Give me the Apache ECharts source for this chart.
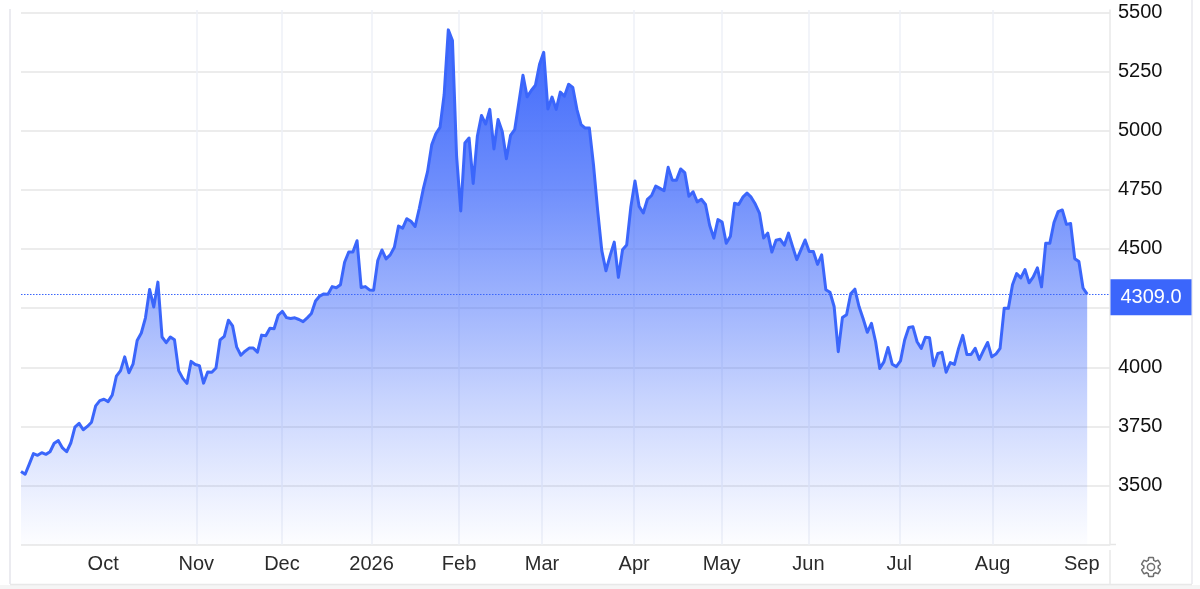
<!DOCTYPE html>
<html>
<head>
<meta charset="utf-8">
<style>html,body{margin:0;padding:0;background:#fff}#c{width:1200px;height:589px}</style>
<script src="https://cdn.jsdelivr.net/npm/echarts@6/dist/echarts.min.js"></script>
</head>
<body>
<div id="c"></div>
<script>
const monthLabels = ['Oct','Nov','Dec','2026','Feb','Mar','Apr','May','Jun','Jul','Aug','Sep'];
const monthSessions = [19.8,42.26,62.9,84.5,105.6,125.6,147.8,168.9,189.8,211.7,234.2,255.7];
const values = [
3560,3548,3591,3635,3628,3639,3632,3643,3679,3690,3659,3643,3680,3747,3763,3736,3750,3768,3837,3859,
3865,3855,3883,3963,3986,4044,3977,4013,4113,4145,4209,4329,4255,4360,4128,4104,4128,4116,3986,3953,
3932,4025,4012,4007,3933,3980,3979,3997,4116,4131,4199,4175,4085,4051,4068,4081,4081,4064,4136,4133,
4165,4163,4220,4236,4210,4206,4209,4202,4193,4209,4227,4280,4301,4310,4309,4341,4336,4349,4444,4487,
4487,4535,4337,4341,4327,4326,4451,4496,4458,4475,4507,4597,4588,4628,4617,4595,4671,4756,4827,4940,
4987,5014,5153,5426,5381,4891,4661,4948,4969,4777,4976,5064,5028,5090,4923,5047,4997,4881,4980,5004,
5118,5234,5143,5170,5192,5281,5331,5092,5142,5090,5163,5146,5196,5183,5090,5026,5011,5011,4855,4663,
4493,4408,4472,4529,4380,4497,4517,4678,4787,4680,4652,4710,4726,4766,4756,4746,4845,4791,4791,4838,
4823,4723,4742,4699,4710,4688,4600,4546,4624,4614,4524,4554,4693,4688,4719,4736,4719,4690,4652,4546,
4567,4487,4537,4541,4516,4567,4510,4455,4496,4538,4489,4489,4435,4475,4328,4317,4257,4066,4210,4222,
4311,4330,4257,4205,4148,4186,4108,3995,4023,4084,4013,4003,4027,4115,4168,4171,4108,4080,4127,4125,
4006,4058,4063,3979,4020,4012,4080,4135,4054,4054,4080,4033,4070,4105,4044,4056,4080,4250,4249,4349,
4396,4378,4413,4357,4382,4420,4340,4524,4524,4612,4658,4665,4604,4608,4459,4447,4335,4309
];
const yMin = 3250, yMax = 5510, yStep = 250;
const xMax = 262.5;
const lastPrice = values[values.length - 1];

const chart = echarts.init(document.getElementById('c'), null, {renderer:'canvas'});
const font = '"Liberation Sans", Helvetica, Arial, sans-serif';
const gear = 'M19.14 12.94c.04-.3.06-.61.06-.94 0-.32-.02-.64-.07-.94l2.03-1.58a.49.49 0 0 0 .12-.61l-1.92-3.32a.488.488 0 0 0-.59-.22l-2.39.96c-.5-.38-1.03-.7-1.62-.94l-.36-2.54a.484.484 0 0 0-.48-.41h-3.84c-.24 0-.43.17-.47.41l-.36 2.54c-.59.24-1.13.57-1.62.94l-2.39-.96c-.22-.08-.47 0-.59.22L2.74 8.87c-.12.21-.08.47.12.61l2.03 1.58c-.05.3-.09.63-.09.94s.02.64.07.94l-2.03 1.58a.49.49 0 0 0-.12.61l1.92 3.32c.12.22.37.29.59.22l2.39-.96c.5.38 1.03.7 1.62.94l.36 2.54c.05.24.24.41.48.41h3.84c.24 0 .44-.17.47-.41l.36-2.54c.59-.24 1.13-.56 1.62-.94l2.39.96c.22.08.47 0 .59-.22l1.92-3.32c.12-.22.07-.47-.12-.61l-2.01-1.58zM12 15.6c-1.98 0-3.6-1.62-3.6-3.6s1.62-3.6 3.6-3.6 3.6 1.62 3.6 3.6-1.62 3.6-3.6 3.6z';
echarts.graphic.registerShape('gearIcon', echarts.graphic.extendPath(gear, {}));
chart.setOption({
  animation:false,
  backgroundColor:'#fff',
  textStyle:{fontFamily:font},
  grid:{left:21,right:90,top:10,bottom:44.25,containLabel:false},
  xAxis:{
    type:'value',min:0,max:xMax,
    axisLine:{show:false},
    axisTick:{show:false,customValues:monthSessions},
    axisLabel:{
      customValues:monthSessions,
      formatter:v=>monthLabels[monthSessions.indexOf(v)]||'',
      color:'#2b2b2b',fontSize:20,margin:10,fontFamily:font,hideOverlap:false
    },
    splitLine:{show:true,showMinLine:false,showMaxLine:false,lineStyle:{color:'#eef1f7',width:1.5}}
  },
  yAxis:{
    type:'value',position:'right',min:yMin,max:yMax,interval:yStep,
    axisLine:{show:true,onZero:false,lineStyle:{color:'#e8e8e8',width:1.5}},
    axisTick:{show:false},
    axisLabel:{
      showMinLabel:false,showMaxLabel:false,
      color:'#111',fontSize:20,margin:8,fontFamily:font,
      formatter:v=>String(v)
    },
    splitLine:{show:true,showMaxLine:false,lineStyle:{color:'#e6e6e6',width:1.5}}
  },
  series:[{
    type:'line',
    data:values.map((v,i)=>[i,v]),
    showSymbol:false,
    smooth:false,
    clip:false,
    lineStyle:{color:'#3b66fb',width:3,join:'round'},
    areaStyle:{opacity:1,color:new echarts.graphic.LinearGradient(0,0,0,1,[
      {offset:0,color:'rgba(59,102,251,1)'},
      {offset:0.3,color:'rgba(59,102,251,0.74)'},
      {offset:0.52,color:'rgba(59,102,251,0.5)'},
      {offset:0.72,color:'rgba(59,102,251,0.28)'},
      {offset:0.91,color:'rgba(59,102,251,0.09)'},
      {offset:1,color:'rgba(59,102,251,0.01)'}
    ])},
    markLine:{
      silent:true,symbol:'none',animation:false,
      lineStyle:{color:'#3b66fb',type:[1.5,1.5],width:1.2},
      label:{
        show:true,position:'end',distance:0,
        formatter:p=>p.value.toFixed(1),
        color:'#fff',fontSize:20,fontFamily:font,
        backgroundColor:'#3b66fb',
        width:81,height:36,lineHeight:36,align:'center',
        offset:[41,3]
      },
      data:[{yAxis:lastPrice}]
    }
  }],
  graphic:[
    {type:'rect',silent:true,shape:{x:0,y:585,width:1200,height:4},style:{fill:'#f5f5f5'},z:0},
    {type:'line',silent:true,shape:{x1:10,y1:9,x2:10,y2:584},style:{stroke:'#ebebf0',lineWidth:2}},
    {type:'line',silent:true,shape:{x1:1192,y1:0,x2:1192,y2:584},style:{stroke:'#e8e8ee',lineWidth:1.5}},
    {type:'line',silent:true,shape:{x1:10,y1:584.5,x2:1192,y2:584.5},style:{stroke:'#e8e8e8',lineWidth:1.5}},
    {type:'line',silent:true,shape:{x1:1110,y1:550,x2:1110,y2:584},style:{stroke:'#e8e8e8',lineWidth:1.5}},
    {type:'line',silent:true,shape:{x1:1110,y1:544.5,x2:1116,y2:544.5},style:{stroke:'#e6e6e6',lineWidth:1.5}},
    {type:'gearIcon',silent:true,x:1139,y:555,style:{fill:'none',stroke:'#6f6f6f',lineWidth:1.5}}
  ]
});
</script>
</body>
</html>
